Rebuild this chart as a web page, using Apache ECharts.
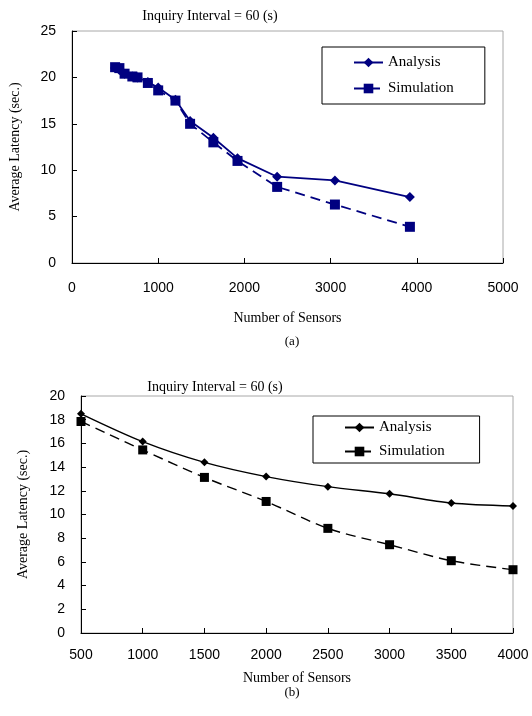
<!DOCTYPE html>
<html>
<head>
<meta charset="utf-8">
<script src="https://cdn.jsdelivr.net/npm/echarts@6/dist/echarts.min.js"></script>
<style>html,body{margin:0;padding:0;background:#fff}#c{width:532px;height:716px}</style>
</head>
<body>
<div id="c"></div>
<script>
// Chart (a)
var sensorsA = [500, 550, 610, 700, 760, 880, 1000, 1200, 1370, 1640, 1920, 2380, 3050, 3920];
var analysisA = [21.0, 20.8, 20.4, 20.1, 20.0, 19.5, 18.9, 17.6, 15.3, 13.5, 11.3, 9.3, 8.9, 7.1];
var simulationA = [21.1, 21.0, 20.4, 20.1, 20.0, 19.4, 18.6, 17.5, 15.0, 13.0, 11.0, 8.2, 6.3, 3.9];
// Chart (b)
var sensorsB = [500, 1000, 1500, 2000, 2500, 3000, 3500, 4000];
var analysisB = [18.5, 16.15, 14.4, 13.2, 12.35, 11.75, 10.97, 10.72];
var simulationB = [17.85, 15.45, 13.13, 11.1, 8.83, 7.45, 6.1, 5.34];

var titleText = 'Inquiry Interval = 60 (s)';
var xName = 'Number of Sensors';
var yName = 'Average Latency (sec.)';
var names = ['Analysis', 'Simulation'];

function pairs(xs, ys) { return xs.map(function (x, i) { return [x, ys[i]]; }); }

var serif = '"Liberation Serif", "Times New Roman", serif';
var sans = '"Liberation Sans", Arial, sans-serif';
var navy = '#000080';
function plain(v) { return String(v); }

function xAxis(grid, min, max, interval, nameGap, margin) {
  return {
    type: 'value', gridIndex: grid, min: min, max: max, interval: interval,
    name: xName, nameLocation: 'middle', nameGap: nameGap,
    nameTextStyle: { fontFamily: serif, fontSize: 14, color: '#000' },
    axisLine: { lineStyle: { color: '#000', width: 1 } },
    axisTick: { inside: true, length: 5, lineStyle: { color: '#000' } },
    axisLabel: { fontFamily: sans, fontSize: 14, color: '#000', margin: margin, formatter: plain },
    splitLine: { show: false }
  };
}
function yAxis(grid, min, max, interval, nameGap, margin) {
  return {
    type: 'value', gridIndex: grid, min: min, max: max, interval: interval,
    name: yName, nameLocation: 'middle', nameGap: nameGap, nameRotate: 90,
    nameTextStyle: { fontFamily: serif, fontSize: 14, color: '#000' },
    axisLine: { show: true, lineStyle: { color: '#000', width: 1 } },
    axisTick: { show: true, inside: true, length: 5, lineStyle: { color: '#000' } },
    axisLabel: { fontFamily: sans, fontSize: 14, color: '#000', margin: margin, formatter: plain },
    splitLine: { show: false }
  };
}

var chart = echarts.init(document.getElementById('c'), null, { renderer: 'canvas' });
chart.setOption({
  animation: false,
  backgroundColor: '#fff',
  title: [
    { text: titleText, left: 205, top: 4, textAlign: 'center', textStyle: { fontFamily: serif, fontSize: 14, fontWeight: 'normal', color: '#000' } },
    { text: '(a)', left: 287, top: 330, textAlign: 'center', textStyle: { fontFamily: serif, fontSize: 13, fontWeight: 'normal', color: '#000' } },
    { text: titleText, left: 210, top: 375, textAlign: 'center', textStyle: { fontFamily: serif, fontSize: 14, fontWeight: 'normal', color: '#000' } },
    { text: '(b)', left: 287, top: 681, textAlign: 'center', textStyle: { fontFamily: serif, fontSize: 13, fontWeight: 'normal', color: '#000' } }
  ],
  grid: [
    { left: 67, top: 31, width: 436, height: 232, show: true, borderColor: '#a8a8a8', borderWidth: 1, backgroundColor: 'transparent' },
    { left: 81, top: 396, width: 432, height: 237, show: true, borderColor: '#a8a8a8', borderWidth: 1, backgroundColor: 'transparent' }
  ],
  legend: [
    {
      data: [names[0], names[1]],
      orient: 'vertical', left: 322, top: 47,
      padding: [8, 31, 8, 31], itemGap: 11, itemWidth: 29, itemHeight: 12,
      borderColor: '#000', borderWidth: 1, backgroundColor: '#fff',
      textStyle: { fontFamily: serif, fontSize: 15, color: '#000' }
    },
    {
      data: [names[0] + ' ', names[1] + ' '],
      orient: 'vertical', left: 313, top: 416,
      padding: [4, 31, 4, 31], itemGap: 9, itemWidth: 29, itemHeight: 12,
      borderColor: '#000', borderWidth: 1, backgroundColor: '#fff',
      textStyle: { fontFamily: serif, fontSize: 15, color: '#000' }
    }
  ],
  xAxis: [ xAxis(0, 0, 5000, 1000, 48, 18), xAxis(1, 500, 4000, 500, 38, 15) ],
  yAxis: [ yAxis(0, 0, 25, 5, 50, 16), yAxis(1, 0, 20, 2, 51, 16) ],
  series: [
    { name: names[0], type: 'line', xAxisIndex: 0, yAxisIndex: 0, data: pairs(sensorsA, analysisA),
      symbol: 'diamond', symbolSize: 10, color: navy,
      lineStyle: { color: navy, width: 1.8 }, itemStyle: { color: navy } },
    { name: names[1], type: 'line', xAxisIndex: 0, yAxisIndex: 0, data: pairs(sensorsA, simulationA),
      symbol: 'rect', symbolSize: 10, color: navy,
      lineStyle: { color: navy, width: 1.8, type: [10, 6] }, itemStyle: { color: navy } },
    { name: names[0] + ' ', type: 'line', xAxisIndex: 1, yAxisIndex: 1, data: pairs(sensorsB, analysisB),
      symbol: 'diamond', symbolSize: 8, smooth: 0.3, color: '#000',
      lineStyle: { color: '#000', width: 1.4 }, itemStyle: { color: '#000' } },
    { name: names[1] + ' ', type: 'line', xAxisIndex: 1, yAxisIndex: 1, data: pairs(sensorsB, simulationB),
      symbol: 'rect', symbolSize: 9, smooth: 0.3, color: '#000',
      lineStyle: { color: '#000', width: 1.4, type: [10, 6] }, itemStyle: { color: '#000' } }
  ]
});
</script>
</body>
</html>
